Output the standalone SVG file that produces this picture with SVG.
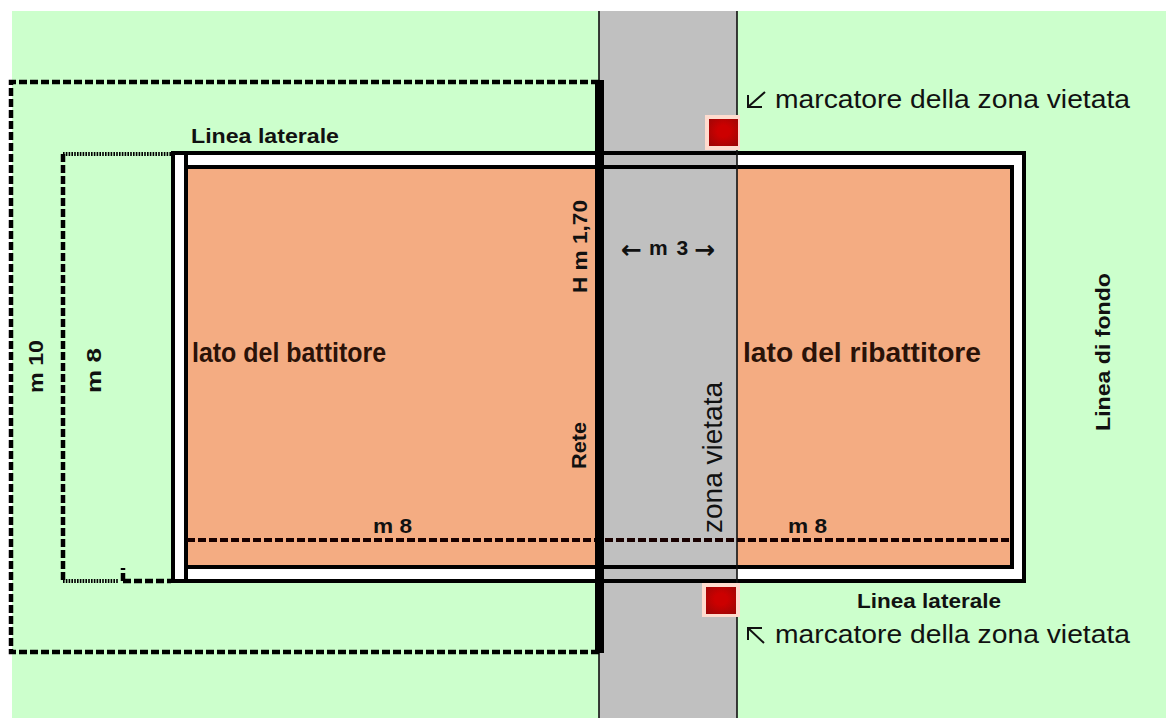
<svg xmlns="http://www.w3.org/2000/svg" width="1166" height="718" viewBox="0 0 1166 718">
<defs>
<radialGradient id="red" cx="0.5" cy="0.45" r="0.7">
<stop offset="0.3" stop-color="#cc0000"/>
<stop offset="1" stop-color="#9c0606"/>
</radialGradient>
</defs>
<style>
text{font-family:"Liberation Sans",Arial,sans-serif;fill:#111}
.lbl{font-size:21px;font-weight:bold}
.big{font-size:27px;font-weight:bold;fill:#2a1208}
.mk{font-size:26px}
.zv{font-size:27px}
.glyph{font-family:"DejaVu Sans",sans-serif;font-size:25px;font-weight:bold}
.dash{fill:none;stroke:#000;stroke-width:4.5;stroke-dasharray:8 3}
.dot{fill:none;stroke:#000;stroke-width:4;stroke-dasharray:1.6 1.2}
.frame{fill:none;stroke:#000;stroke-width:4}
.arr{fill:none;stroke:#111;stroke-width:2}
.halo{fill:#ffdccf}
.core{fill:url(#red)}
</style>
<rect width="1166" height="718" fill="#fff"/>
<rect x="12" y="11" width="1154" height="707" fill="#ccffcc"/>
<g id="zona-vietata">
<rect x="599" y="11" width="138" height="707" fill="#c0c0c0"/>
</g>
<g id="campo">
<rect x="173" y="153" width="851" height="428" fill="#fff"/>
<rect x="186" y="167" width="826" height="400" fill="#f4ac82"/>
<rect x="599" y="153" width="138" height="428" fill="#c0c0c0"/>
<path class="frame" d="M173 153H1024V581H173Z"/>
<path class="frame" d="M186 153V581M186 167H1012V567H186"/>
</g>
<g id="connectors">
<path d="M599 11V718M737 11V718" fill="none" stroke="#111" stroke-width="1.6"/>
<path class="dash" d="M599 82H11V652H599"/>
<path class="dot" d="M171 154H63"/>
<path class="dash" d="M63 154V581"/>
<path class="dot" d="M63 581H119"/>
<path class="dash" d="M123 581H171"/>
<path class="dash" d="M123 581V568"/>
<path d="M187 540H1012" fill="none" stroke="#180000" stroke-width="4" stroke-dasharray="8 3"/>
<rect x="595" y="80" width="9" height="573" fill="#000"/>
</g>
<g id="marcatore-alto">
<rect class="halo" x="705" y="115" width="35" height="35"/>
<rect class="core" x="709" y="119" width="29" height="27"/>
</g>
<g id="marcatore-basso">
<rect class="halo" x="702" y="583" width="38" height="34"/>
<rect class="core" x="706" y="587" width="30" height="27"/>
</g>
<g id="testi">
<text x="191" y="143" class="lbl" textLength="148" lengthAdjust="spacingAndGlyphs">Linea laterale</text>
<text x="857" y="608" class="lbl" textLength="144" lengthAdjust="spacingAndGlyphs">Linea laterale</text>
<text x="192" y="362" class="big" textLength="194" lengthAdjust="spacingAndGlyphs">lato del battitore</text>
<text x="743" y="362" class="big" textLength="238" lengthAdjust="spacingAndGlyphs">lato del ribattitore</text>
<text x="373" y="533" class="lbl" textLength="39" lengthAdjust="spacingAndGlyphs">m 8</text>
<text x="788" y="533" class="lbl" textLength="39" lengthAdjust="spacingAndGlyphs">m 8</text>
<text x="775" y="108" class="mk" textLength="355" lengthAdjust="spacingAndGlyphs">marcatore della zona vietata</text>
<text x="775" y="643" class="mk" textLength="355" lengthAdjust="spacingAndGlyphs">marcatore della zona vietata</text>
<text class="lbl" y="255"><tspan class="glyph" x="621" y="258">←</tspan><tspan x="649" y="255" word-spacing="3">m 3</tspan><tspan class="glyph" x="694" y="258">→</tspan></text>
<text class="lbl" transform="translate(43 393) rotate(-90)" textLength="53" lengthAdjust="spacingAndGlyphs">m 10</text>
<text class="lbl" transform="translate(101 393) rotate(-90)" textLength="45" lengthAdjust="spacingAndGlyphs">m 8</text>
<text class="lbl" transform="translate(587 293) rotate(-90)" textLength="93" lengthAdjust="spacingAndGlyphs">H m 1,70</text>
<text class="lbl" transform="translate(586 469) rotate(-90)" textLength="47" lengthAdjust="spacingAndGlyphs">Rete</text>
<text class="zv" transform="translate(722 533) rotate(-90)" textLength="151" lengthAdjust="spacingAndGlyphs">zona vietata</text>
<text class="lbl" transform="translate(1110 431) rotate(-90)" textLength="158" lengthAdjust="spacingAndGlyphs">Linea di fondo</text>
<path class="arr" d="M765 92L748 107M748 95V107H762"/>
<path class="arr" d="M764 643L748 628M748 640V628H762"/>
</g>
</svg>
